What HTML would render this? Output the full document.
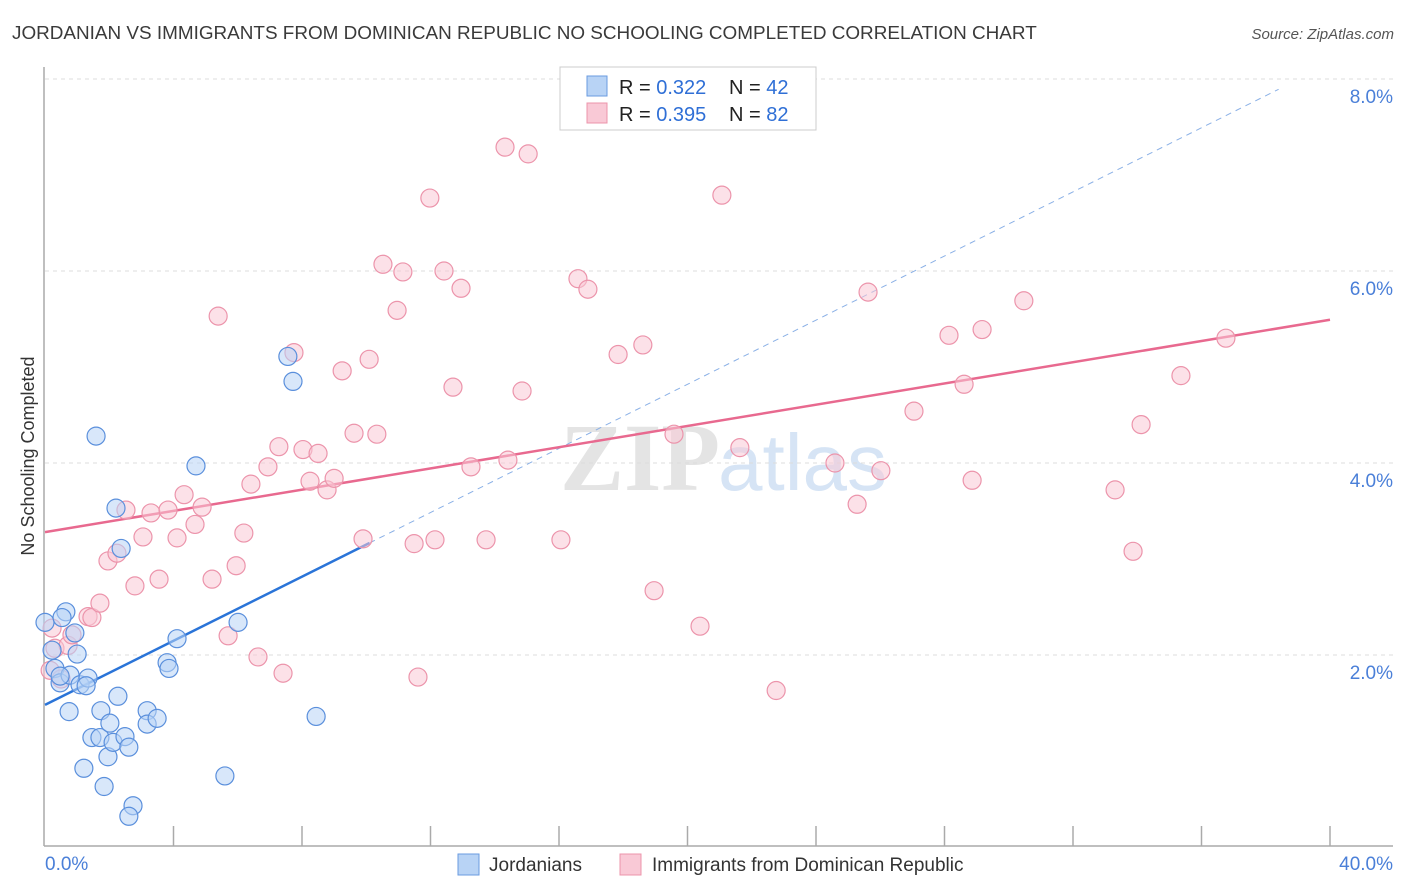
<!DOCTYPE html>
<html><head><meta charset="utf-8"><style>
body{margin:0;background:#fff;font-family:"Liberation Sans",sans-serif;}
#wrap{position:relative;width:1406px;height:892px;overflow:hidden;}
</style></head><body>
<div id="wrap">
<svg id="svg" width="1406" height="892" xmlns="http://www.w3.org/2000/svg">
<text x="12" y="39" font-size="18.9" fill="#3a3a3a">JORDANIAN VS IMMIGRANTS FROM DOMINICAN REPUBLIC NO SCHOOLING COMPLETED CORRELATION CHART</text>
<text x="1394" y="39" font-size="15" fill="#555" font-style="italic" text-anchor="end">Source: ZipAtlas.com</text>
<text x="720" y="490" font-size="96" fill="#e4e4e4" text-anchor="end" font-family="Liberation Serif,serif" font-weight="bold">ZIP</text>
<text x="718" y="490" font-size="80" fill="#d6e4f5">atlas</text>
<g id="grid"></g><g id="axes"></g><g id="lines"></g><g id="pts"></g>
<text transform="translate(34,456) rotate(-90)" font-size="18" fill="#333" text-anchor="middle">No Schooling Completed</text>
<g>
<rect x="560" y="67" width="256" height="63" fill="#fff" stroke="#ccc"/>
<rect x="587" y="76" width="20" height="20" fill="#b8d3f5" stroke="#6a9be0"/>
<rect x="587" y="103" width="20" height="20" fill="#f9c9d6" stroke="#ec94ab"/>
<text x="619" y="94" font-size="20" fill="#222">R = <tspan fill="#2f6fd6">0.322</tspan></text>
<text x="729" y="94" font-size="20" fill="#222">N = <tspan fill="#2f6fd6">42</tspan></text>
<text x="619" y="121" font-size="20" fill="#222">R = <tspan fill="#2f6fd6">0.395</tspan></text>
<text x="729" y="121" font-size="20" fill="#222">N = <tspan fill="#2f6fd6">82</tspan></text>
</g>
<rect x="458" y="854" width="21" height="21" fill="#b8d3f5" stroke="#6a9be0"/>
<text x="489" y="871" font-size="19" fill="#333">Jordanians</text>
<rect x="620" y="854" width="21" height="21" fill="#f9c9d6" stroke="#ec94ab"/>
<text x="652" y="871" font-size="19" fill="#333">Immigrants from Dominican Republic</text>
</svg>
</div>
<script>
const yTicks=[2,4,6,8];
const yTickLabels=["2.0%","4.0%","6.0%","8.0%"];
const xTickLabels=["0.0%","40.0%"];
const blueX=[0.0,0.22,0.31,0.47,0.65,0.53,0.93,1.0,0.78,1.09,1.34,1.28,0.75,1.59,1.74,1.46,1.71,1.21,1.84,2.02,1.96,2.12,2.27,2.49,2.61,2.74,2.61,2.21,2.37,3.18,3.18,3.49,3.80,3.86,4.11,4.70,6.01,5.60,7.56,7.72,8.44,0.47];
const blueY=[2.34,2.05,1.86,1.71,2.45,2.39,2.23,2.01,1.79,1.69,1.76,1.68,1.41,4.28,1.42,1.14,1.14,0.82,0.63,1.29,0.94,1.09,1.57,1.15,1.04,0.43,0.32,3.53,3.11,1.42,1.28,1.34,1.92,1.86,2.17,3.97,2.34,0.74,5.11,4.85,1.36,1.78];
const pinkX=[0.16,0.31,0.22,0.72,0.84,1.34,1.46,1.71,1.96,2.24,2.52,2.80,3.05,3.30,3.55,3.83,4.11,4.33,4.67,4.89,5.20,5.39,5.70,5.95,6.19,6.41,6.63,6.94,7.28,7.41,7.75,8.03,8.25,8.50,8.78,9.00,9.25,9.62,9.90,10.09,10.33,10.52,10.96,11.14,11.49,11.61,11.98,12.14,12.42,12.70,12.95,13.26,13.73,14.32,14.41,14.85,15.04,16.06,16.59,16.90,17.84,18.61,18.96,19.58,20.39,21.07,21.63,22.76,24.59,25.28,25.62,26.02,27.05,28.14,28.61,28.86,29.17,30.47,33.31,33.87,34.12,35.36,36.76,0.5];
const pinkY=[1.84,2.07,2.28,2.10,2.21,2.40,2.39,2.54,2.98,3.06,3.51,2.72,3.23,3.48,2.79,3.51,3.22,3.67,3.36,3.54,2.79,5.53,2.20,2.93,3.27,3.78,1.98,3.96,4.17,1.81,5.15,4.14,3.81,4.10,3.72,3.84,4.96,4.31,3.21,5.08,4.30,6.07,5.59,5.99,3.16,1.77,6.76,3.20,6.00,4.79,5.82,3.96,3.20,7.29,4.03,4.75,7.22,3.20,5.92,5.81,5.13,5.23,2.67,4.30,2.30,6.79,4.16,1.63,4.00,3.57,5.78,3.92,4.54,5.33,4.82,3.82,5.39,5.69,3.72,3.08,4.40,4.91,5.30,1.75];
const blueTrend=[1.48,0.167];
const pinkTrend=[3.28,0.0553];
const NS="http://www.w3.org/2000/svg";
const X=v=>45+v*1285/40, Y=v=>847-v*96;
function mk(t,a,p){const e=document.createElementNS(NS,t);for(const k in a)e.setAttribute(k,a[k]);p.appendChild(e);return e;}
const gridG=document.getElementById('grid'),axesG=document.getElementById('axes'),linesG=document.getElementById('lines'),ptsG=document.getElementById('pts');
yTicks.forEach((t,i)=>{
 const l=mk('line',{x1:45,x2:1393,y1:Y(t),y2:Y(t),stroke:'#dcdcdc','stroke-dasharray':'4,4'},gridG);
 
 
 const tx=mk('text',{x:1393,y:Y(t)+24,'font-size':19,fill:'#4a7fd8','text-anchor':'end'},gridG);
 tx.textContent=yTickLabels[i];
 
 
});
const ya=mk('line',{x1:44,x2:44,y1:67,y2:846,stroke:'#aaa','stroke-width':1.5},axesG);


const xa=mk('line',{x1:44,x2:1393,y1:846,y2:846,stroke:'#aaa','stroke-width':1.5},axesG);


for(let i=1;i<=10;i++){const t=mk('line',{x1:X(i*4),x2:X(i*4),y1:826,y2:846,stroke:'#aaa','stroke-width':1.5},axesG);
 
 }
const xl0=mk('text',{x:45,y:870,'font-size':19,fill:'#4a7fd8'},axesG);xl0.textContent=xTickLabels[0];


const xl1=mk('text',{x:1393,y:870,'font-size':19,fill:'#4a7fd8','text-anchor':'end'},axesG);xl1.textContent=xTickLabels[1];


function pt(x,y,fill,stroke,name){const c=mk('circle',{cx:X(x),cy:Y(y),r:9,fill:fill,'fill-opacity':0.55,stroke:stroke,'stroke-width':1.2},ptsG);
 
 }
pinkX.forEach((x,i)=>pt(x,pinkY[i],'#f9c9d6','#ec94ab','point-dominican'));
blueX.forEach((x,i)=>pt(x,blueY[i],'#b8d3f5','#5a8fdc','point-jordanian'));
const bEnd=10.1, bDash=38.4;
const bl=mk('line',{x1:X(0),y1:Y(blueTrend[0]),x2:X(bEnd),y2:Y(blueTrend[0]+blueTrend[1]*bEnd),stroke:'#2a74d8','stroke-width':2.5},linesG);


const bd=mk('line',{x1:X(bEnd),y1:Y(blueTrend[0]+blueTrend[1]*bEnd),x2:X(bDash),y2:Y(blueTrend[0]+blueTrend[1]*bDash),stroke:'#8ab0e6','stroke-width':1,'stroke-dasharray':'6,5'},linesG);


const pl=mk('line',{x1:X(0),y1:Y(pinkTrend[0]),x2:X(40),y2:Y(pinkTrend[0]+pinkTrend[1]*40),stroke:'#e8698f','stroke-width':2.5},linesG);


</script>
</body></html>
